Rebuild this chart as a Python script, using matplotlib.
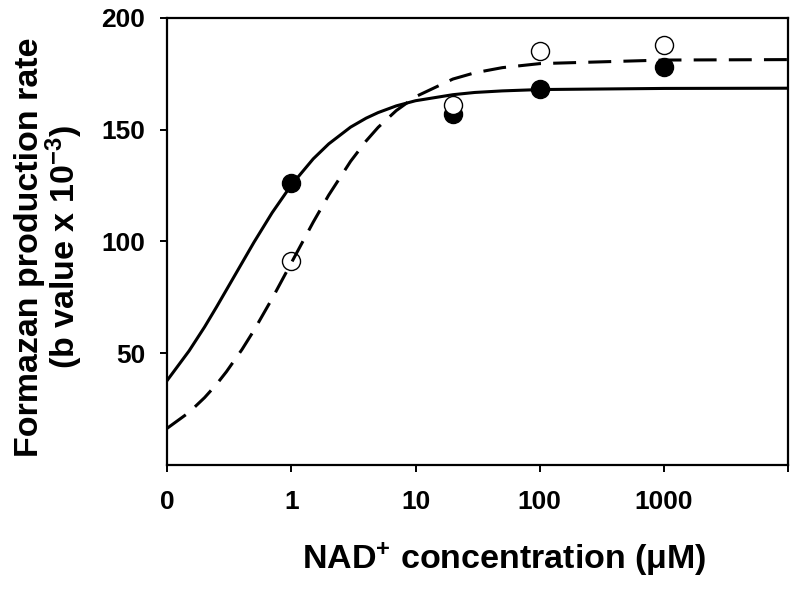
import matplotlib
matplotlib.use('Agg')
import matplotlib.pyplot as plt

# Polices : Arial-like en gras partout
plt.rcParams['font.family'] = ['Liberation Sans', 'DejaVu Sans']
plt.rcParams['font.weight'] = 'bold'
plt.rcParams['axes.labelweight'] = 'bold'
plt.rcParams['mathtext.fontset'] = 'custom'
plt.rcParams['mathtext.rm'] = 'Liberation Sans:bold'
plt.rcParams['mathtext.bf'] = 'Liberation Sans:bold'
plt.rcParams['mathtext.default'] = 'bf'

# Points mesurés (NAD+ en µM)
conc_pts = [1, 20, 100, 1000]
rate_filled = [126, 157, 168, 178]
rate_open = [91, 161, 185, 188]

# Courbes ajustées (0 placé à 0.1 sur l'axe log)
conc_curve = [0.1, 0.15, 0.2, 0.25, 0.3, 0.4, 0.5, 0.7, 1, 1.5, 2, 3, 4, 5, 7,
              10, 20, 30, 50, 100, 1000, 10000]
curve_solid = [37.8, 51.0, 61.7, 70.7, 78.3, 90.3, 99.6, 112.8, 125.2, 136.9, 143.6,
               151.1, 155.1, 157.6, 160.6, 162.9, 165.6, 166.6, 167.3, 167.9, 168.4, 168.5]
curve_dashed = [16.4, 23.5, 30.1, 36.1, 41.7, 51.6, 60.2, 74.4, 90.4, 108.6, 120.7,
                135.8, 144.9, 151.0, 158.5, 164.7, 172.6, 175.4, 177.7, 179.5, 181.1, 181.3]

x_ticks = [0.1, 1, 10, 100, 1000, 10000]
x_ticklabels = ['0', '1', '10', '100', '1000', '']
y_ticks = [50, 100, 150, 200]

fig = plt.figure(figsize=(8, 5.93), dpi=100)
ax = fig.add_axes([0.209, 0.216, 0.776, 0.754])

ax.plot(conc_pts, rate_filled, 'o', color='black', markersize=13, zorder=2)
ax.plot(conc_pts, rate_open, 'o', markerfacecolor='white', markeredgecolor='black',
        markeredgewidth=1.0, markersize=13, zorder=3)
ax.plot(conc_curve, curve_solid, '-', color='black', lw=2.2, zorder=4)
ax.plot(conc_curve, curve_dashed, color='black', lw=2.2, linestyle=(0, (7.5, 4)), zorder=4)

ax.set_xscale('log')
ax.set_xlim(0.1, 10000)
ax.set_ylim(0, 200)
ax.set_xticks(x_ticks)
ax.set_xticklabels(x_ticklabels)
ax.minorticks_off()
ax.set_yticks(y_ticks)

for s in ax.spines.values():
    s.set_linewidth(1.6)
ax.tick_params(axis='both', direction='out', length=5, width=1.4, labelsize=19, pad=11)
ax.tick_params(axis='x', pad=13)

ax.set_xlabel('NAD$^{+}$ concentration (\u03bcM)', fontsize=24.5)
ax.xaxis.set_label_coords(0.543, -0.168)
ax.set_ylabel('Formazan production rate\n(b value x 10$^{-3}$)', fontsize=24.5,
              linespacing=0.95)
ax.yaxis.set_label_coords(-0.132, 0.487)

fig.savefig('out.png', dpi=100)
